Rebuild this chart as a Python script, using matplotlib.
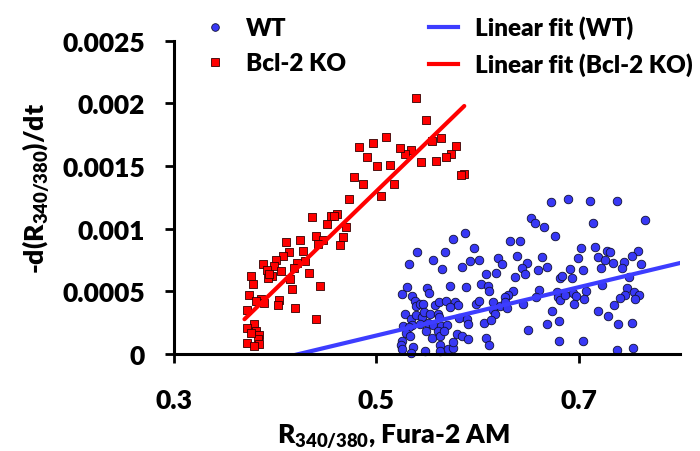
import numpy as np
import matplotlib
matplotlib.use('Agg')
import matplotlib.pyplot as plt
from matplotlib.lines import Line2D

plt.rcParams['font.family'] = ['Lato', 'DejaVu Sans']
plt.rcParams['font.weight'] = 'heavy'
plt.rcParams['mathtext.fontset'] = 'custom'
plt.rcParams['mathtext.rm'] = 'Lato:heavy'
plt.rcParams['mathtext.bf'] = 'Lato:heavy'
plt.rcParams['mathtext.it'] = 'Lato:heavy'

# WT cells
wt_x = [0.673, 0.689, 0.711, 0.738, 0.765, 0.653, 0.657, 0.666, 0.714, 0.677,
        0.588, 0.576, 0.632, 0.642, 0.540, 0.568, 0.597, 0.702, 0.716, 0.728,
        0.731, 0.759, 0.753, 0.532, 0.556, 0.565, 0.585, 0.593, 0.602, 0.620,
        0.624, 0.639, 0.649, 0.644, 0.647, 0.660, 0.664, 0.669, 0.699, 0.691,
        0.704, 0.719, 0.726, 0.734, 0.745, 0.743, 0.762, 0.722, 0.608, 0.618,
        0.637, 0.682, 0.684, 0.693, 0.750, 0.530, 0.526, 0.550, 0.552, 0.573,
        0.589, 0.604, 0.610, 0.611, 0.635, 0.630, 0.627, 0.661, 0.658, 0.679,
        0.680, 0.682, 0.694, 0.697, 0.707, 0.705, 0.723, 0.748, 0.746, 0.755,
        0.760, 0.756, 0.741, 0.735, 0.695, 0.674, 0.669, 0.681, 0.650, 0.719,
        0.729, 0.739, 0.753, 0.681, 0.704, 0.738, 0.754, 0.535, 0.538, 0.539,
        0.543, 0.546, 0.558, 0.562, 0.569, 0.578, 0.581, 0.573, 0.599, 0.602,
        0.615, 0.615, 0.617, 0.622, 0.627, 0.629, 0.528, 0.534, 0.539, 0.545,
        0.547, 0.553, 0.561, 0.562, 0.535, 0.527, 0.532, 0.543, 0.551, 0.556,
        0.564, 0.570, 0.582, 0.590, 0.591, 0.606, 0.613, 0.529, 0.533, 0.549,
        0.555, 0.561, 0.563, 0.567, 0.580, 0.585, 0.591, 0.526, 0.525, 0.536,
        0.526, 0.534, 0.548, 0.563, 0.563, 0.571, 0.576, 0.576, 0.608, 0.611,
        0.645, 0.686]
wt_y = [0.001216, 0.001234, 0.001221, 0.001218, 0.001067, 0.001085, 0.001048, 0.001016, 0.001045, 0.000944,
        0.000963, 0.000920, 0.000899, 0.000899, 0.000817, 0.000814, 0.000849, 0.000846, 0.000851, 0.000825,
        0.000814, 0.000819, 0.000785, 0.000716, 0.000753, 0.000676, 0.000692, 0.000745, 0.000753, 0.000763,
        0.000716, 0.000785, 0.000724, 0.000689, 0.000641, 0.000670, 0.000771, 0.000697, 0.000763, 0.000678,
        0.000673, 0.000771, 0.000750, 0.000724, 0.000732, 0.000686, 0.000721, 0.000689, 0.000636, 0.000644,
        0.000614, 0.000606, 0.000620, 0.000606, 0.000614, 0.000537, 0.000479, 0.000524, 0.000484, 0.000545,
        0.000537, 0.000556, 0.000543, 0.000505, 0.000500, 0.000471, 0.000458, 0.000513, 0.000458, 0.000492,
        0.000452, 0.000434, 0.000484, 0.000466, 0.000505, 0.000439, 0.000553, 0.000529, 0.000473, 0.000495,
        0.000471, 0.000439, 0.000447, 0.000391, 0.000399, 0.000340, 0.000242, 0.000266, 0.000194, 0.000343,
        0.000301, 0.000242, 0.000247, 0.000101, 0.000104, 0.000035, 0.000048, 0.000460, 0.000423, 0.000383,
        0.000396, 0.000396, 0.000391, 0.000412, 0.000420, 0.000418, 0.000388, 0.000375, 0.000396, 0.000420,
        0.000412, 0.000348, 0.000322, 0.000386, 0.000412, 0.000364, 0.000317, 0.000279, 0.000311, 0.000293,
        0.000333, 0.000322, 0.000322, 0.000298, 0.000229, 0.000226, 0.000213, 0.000237, 0.000245, 0.000234,
        0.000226, 0.000231, 0.000285, 0.000279, 0.000237, 0.000250, 0.000274, 0.000165, 0.000141, 0.000186,
        0.000130, 0.000186, 0.000146, 0.000181, 0.000160, 0.000141, 0.000120, 0.000106, 0.000074, 0.000056,
        0.000043, 0.000010, 0.000021, 0.000074, 0.000021, 0.000043, 0.000048, 0.000093, 0.000128, 0.000072,
        0.000396, 0.000473]

# Bcl-2 KO cells
ko_x = [0.539, 0.549, 0.555, 0.564, 0.579, 0.574, 0.569, 0.559, 0.544, 0.534,
        0.528, 0.524, 0.510, 0.497, 0.483, 0.491, 0.501, 0.514, 0.587, 0.584,
        0.478, 0.487, 0.518, 0.505, 0.473, 0.437, 0.455, 0.461, 0.458, 0.451,
        0.470, 0.441, 0.467, 0.448, 0.443, 0.464, 0.425, 0.411, 0.428, 0.414,
        0.408, 0.401, 0.430, 0.422, 0.388, 0.399, 0.419, 0.392, 0.406, 0.434,
        0.397, 0.393, 0.376, 0.415, 0.378, 0.417, 0.445, 0.374, 0.386, 0.381,
        0.389, 0.404, 0.403, 0.372, 0.420, 0.441, 0.379, 0.372, 0.381, 0.384,
        0.383, 0.372, 0.384, 0.379, 0.376, 0.394]
ko_y = [0.00204, 0.00187, 0.00170, 0.00172, 0.00166, 0.00160, 0.00157, 0.00154, 0.00153, 0.00163,
        0.00160, 0.00164, 0.00173, 0.00168, 0.00165, 0.00157, 0.00150, 0.00151, 0.00144, 0.00143,
        0.00141, 0.00136, 0.00136, 0.00126, 0.00124, 0.00109, 0.00110, 0.00112, 0.00110, 0.00104,
        0.00101, 0.00094, 0.00093, 0.00091, 0.00088, 0.00087, 0.00091, 0.00089, 0.00082, 0.00081,
        0.00078, 0.00075, 0.00074, 0.00073, 0.00072, 0.00070, 0.00069, 0.00067, 0.00066, 0.00065,
        0.00062, 0.00061, 0.00062, 0.00060, 0.00056, 0.00052, 0.00054, 0.00047, 0.00044, 0.00042,
        0.00041, 0.00043, 0.00039, 0.00035, 0.00037, 0.00028, 0.00024, 0.00021, 0.00018, 0.00015,
        0.00012, 0.00009, 0.00008, 0.00006, 0.00017, 0.00064]

# linear fits (slope, intercept, x range)
wt_fit = (0.00193, -0.000818)
wt_fit_range = (0.30, 0.80)
ko_fit = (0.00784, -0.002623)
ko_fit_range = (0.370, 0.587)

x_ticks = [0.3, 0.5, 0.7]
x_tick_labels = ['0.3', '0.5', '0.7']
y_ticks = [0, 0.0005, 0.001, 0.0015, 0.002, 0.0025]
y_tick_labels = ['0', '0.0005', '0.001', '0.0015', '0.002', '0.0025']

blue = '#3838F5'
red = '#FF0000'

fig = plt.figure(figsize=(7, 4.52), dpi=100)
ax = fig.add_axes([0.248, 0.2146, 0.7234, 0.6931])

ax.scatter(wt_x, wt_y, s=38, marker='o', color=blue, edgecolors='#111133',
           linewidths=0.6, zorder=3, clip_on=False)
ax.scatter(ko_x, ko_y, s=34, marker='s', color=red, edgecolors='#330000',
           linewidths=0.6, zorder=3, clip_on=False)

xs = np.array(wt_fit_range)
ax.plot(xs, wt_fit[0] * xs + wt_fit[1], color='#3d3dff', linewidth=3, zorder=4)
xs = np.array(ko_fit_range)
ax.plot(xs, ko_fit[0] * xs + ko_fit[1], color=red, linewidth=3, zorder=4,
        solid_capstyle='round')

ax.set_xlim(0.3, 0.8)
ax.set_ylim(0, 0.0025)
ax.set_xticks(x_ticks)
ax.set_xticklabels(x_tick_labels)
ax.set_yticks(y_ticks)
ax.set_yticklabels(y_tick_labels)

for side in ['top', 'right']:
    ax.spines[side].set_visible(False)
for side in ['left', 'bottom']:
    ax.spines[side].set_linewidth(2.2)
    ax.spines[side].set_zorder(5)

ax.tick_params(axis='both', direction='out', length=6.5, width=2, labelsize=19)
ax.tick_params(axis='x', pad=18)
ax.tick_params(axis='y', pad=14)

ax.text(0.435, -0.26, r'$\mathbf{R_{340/380}}$, Fura-2 AM', transform=ax.transAxes,
        ha='center', va='center', fontsize=19, fontweight='heavy')
ax.text(-0.272, 0.533, r'-d($\mathbf{R_{340/380}}$)/dt', transform=ax.transAxes,
        ha='center', va='center', rotation=90, fontsize=19, fontweight='heavy')

handles = [
    Line2D([], [], linestyle='none', marker='o', markersize=5.5, color=blue,
           markeredgecolor='#111133', markeredgewidth=0.6),
    Line2D([], [], linestyle='none', marker='s', markersize=5.5, color=red,
           markeredgecolor='#330000', markeredgewidth=0.6),
    Line2D([], [], color='#3d3dff', linewidth=3),
    Line2D([], [], color=red, linewidth=3),
]
labels = ['WT', 'Bcl-2 KO', 'Linear fit (WT)', 'Linear fit (Bcl-2 KO)']
leg = fig.legend(handles, labels, ncol=2, frameon=False, fontsize=17.5,
                 loc='upper left', bbox_to_anchor=(0.272, 0.985),
                 handlelength=1.2, handletextpad=0.7, columnspacing=3.4,
                 labelspacing=0.55, borderaxespad=0)
for t in leg.get_texts():
    t.set_fontweight('heavy')

fig.savefig('out.png', dpi=100)
